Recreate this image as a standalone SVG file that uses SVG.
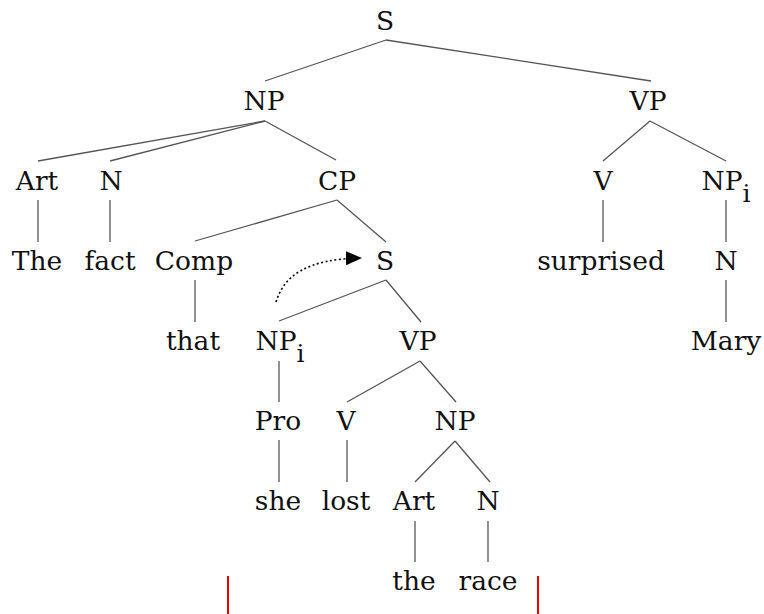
<svg xmlns="http://www.w3.org/2000/svg" width="764" height="614" viewBox="0 0 764 614">
<defs>
<style>
.t{font-family:"DejaVu Serif",serif;font-size:26.5px;fill:#111;text-anchor:middle}
.sub{font-size:25px}
.e{stroke:#555;stroke-width:1.3;fill:none}
.r{stroke:#e00;stroke-width:2}
</style>
<marker id="ah" markerWidth="16" markerHeight="14" refX="15" refY="7" orient="auto" markerUnits="userSpaceOnUse">
<path d="M0,0 L16,7 L0,14 Z" fill="#000"/>
</marker>
</defs>
<rect width="764" height="614" fill="#fff"/>
<g id="connectors">
<line class="e" x1="386" y1="40" x2="265" y2="81"/>
<line class="e" x1="386" y1="40" x2="651" y2="81"/>
<line class="e" x1="265" y1="121" x2="38" y2="161"/>
<line class="e" x1="265" y1="121" x2="110" y2="161"/>
<line class="e" x1="265" y1="121" x2="336" y2="160"/>
<line class="e" x1="650" y1="121" x2="603" y2="161"/>
<line class="e" x1="650" y1="121" x2="726" y2="161"/>
<line class="e" x1="38" y1="200" x2="38" y2="242"/>
<line class="e" x1="110" y1="200" x2="110" y2="242"/>
<line class="e" x1="337" y1="200" x2="195" y2="241"/>
<line class="e" x1="337" y1="200" x2="386" y2="242"/>
<line class="e" x1="603" y1="200" x2="603" y2="242"/>
<line class="e" x1="726" y1="200" x2="726" y2="242"/>
<line class="e" x1="195" y1="280" x2="195" y2="322"/>
<line class="e" x1="386" y1="280" x2="279" y2="321"/>
<line class="e" x1="386" y1="280" x2="421" y2="322"/>
<line class="e" x1="726" y1="280" x2="726" y2="322"/>
<line class="e" x1="279" y1="361" x2="279" y2="402"/>
<line class="e" x1="420" y1="361" x2="347" y2="402"/>
<line class="e" x1="420" y1="361" x2="456" y2="402"/>
<line class="e" x1="279" y1="440" x2="279" y2="482"/>
<line class="e" x1="347" y1="440" x2="347" y2="482"/>
<line class="e" x1="455" y1="441" x2="415" y2="482"/>
<line class="e" x1="455" y1="441" x2="490" y2="482"/>
<line class="e" x1="415" y1="521" x2="415" y2="562"/>
<line class="e" x1="488" y1="521" x2="488" y2="562"/>
<path d="M276,302 C284,276 306,259 361,258" fill="none" stroke="#000" stroke-width="1.6" stroke-dasharray="2,2.5" marker-end="url(#ah)"/>
<line class="r" x1="228" y1="576" x2="228" y2="614"/>
<line class="r" x1="538" y1="576" x2="538" y2="614"/>
</g>
<g id="n_S"><text class="t" x="385" y="30">S</text></g>
<g id="n_NP"><text class="t" x="264" y="110">NP</text></g>
<g id="n_VP"><text class="t" x="648" y="110">VP</text></g>
<g id="n_Art1"><text class="t" x="37" y="190">Art</text></g>
<g id="n_N1"><text class="t" x="111" y="190">N</text></g>
<g id="n_CP"><text class="t" x="337" y="190">CP</text></g>
<g id="n_V1"><text class="t" x="603" y="190">V</text></g>
<g id="n_NPi1"><text class="t" x="726" y="190">NP<tspan class="sub" dy="12">i</tspan></text></g>
<g id="n_The"><text class="t" x="37" y="270">The</text></g>
<g id="n_fact"><text class="t" x="110" y="270">fact</text></g>
<g id="n_Comp"><text class="t" x="194" y="270">Comp</text></g>
<g id="n_S2"><text class="t" x="385" y="270">S</text></g>
<g id="n_surprised"><text class="t" x="601" y="270">surprised</text></g>
<g id="n_N2"><text class="t" x="726" y="270">N</text></g>
<g id="n_that"><text class="t" x="193" y="350">that</text></g>
<g id="n_NPi2"><text class="t" x="280" y="350">NP<tspan class="sub" dy="12">i</tspan></text></g>
<g id="n_VP2"><text class="t" x="418" y="350">VP</text></g>
<g id="n_Mary"><text class="t" x="726" y="350">Mary</text></g>
<g id="n_Pro"><text class="t" x="278" y="430">Pro</text></g>
<g id="n_V2"><text class="t" x="346" y="430">V</text></g>
<g id="n_NP3"><text class="t" x="455" y="430">NP</text></g>
<g id="n_she"><text class="t" x="278" y="510">she</text></g>
<g id="n_lost"><text class="t" x="346" y="510">lost</text></g>
<g id="n_Art2"><text class="t" x="414" y="510">Art</text></g>
<g id="n_N3"><text class="t" x="488" y="510">N</text></g>
<g id="n_the"><text class="t" x="414" y="590">the</text></g>
<g id="n_race"><text class="t" x="488" y="590">race</text></g>
</svg>
